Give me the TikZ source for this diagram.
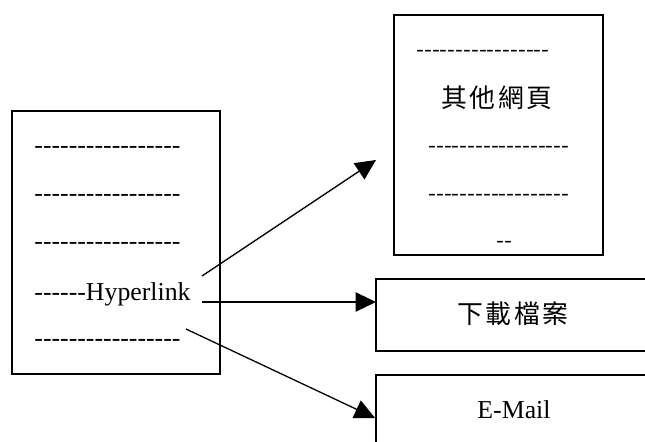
\documentclass[tikz,border=0pt]{standalone}
\usepackage{fontspec}
\setmainfont{Liberation Serif}[Ligatures=TeXOff]
\newfontfamily\cjk{Noto Sans CJK TC}
\usepackage{tikz}
\usetikzlibrary{arrows.meta,positioning}

\begin{document}
\begin{tikzpicture}[x=0.465pt,y=-0.465pt,
    page/.style={draw,line width=0.8pt,inner sep=0pt},
    txt/.style={anchor=base west,inner sep=0pt,font=\fontsize{12}{14}\selectfont},
    rdash/.style={anchor=base west,inner sep=0pt,font=\cjk\fontsize{10.5}{12}\selectfont},
    hop/.style={line width=0.6pt,-{Triangle[length=9.5pt,width=9pt]}}]
    \useasboundingbox (0,0) rectangle (645,441);
    \clip (0,0) rectangle (645,441);

    % Source page
    \node[page,minimum width=96.7pt,minimum height=122.3pt] (src) at (116,242.5) {};
    \node[txt] (s1) at (34,153.5) {-----------------};
    \node[txt] (s2) at (34,201.5) {-----------------};
    \node[txt] (s3) at (34,249.5) {-----------------};
    \node[txt] (hyper) at (34,300) {------Hyperlink};
    \node[txt] (s5) at (34,346.5) {-----------------};

    % Target pages
    \node[page,minimum width=97.2pt,minimum height=111.6pt] (other) at (498.5,135) {};
    \node[rdash] (o1) at (416,57.5) {-----------------};
    \node[font=\cjk\fontsize{12}{14}\selectfont] (title) at (497,98) {其\hspace{1.2pt}他\hspace{1.2pt}網\hspace{1.2pt}頁};
    \node[rdash] (o3) at (428,153.5) {------------------};
    \node[rdash] (o4) at (428,201.5) {------------------};
    \node[rdash] (o5) at (496,248.5) {--};

    \node[page,minimum width=150.7pt,minimum height=33.5pt] (down) at (538,315) {};
    \node[font=\cjk\fontsize{12}{14}\selectfont] (dltext) at (513,314) {下\hspace{1.2pt}載\hspace{1.2pt}檔\hspace{1.2pt}案};

    \node[page,minimum width=150.7pt,minimum height=40pt] (mail) at (538,418) {};
    \node[font=\fontsize{12}{14}\selectfont] (mailtext) at (514,410) {E-Mail};

    % Links
    \coordinate (a1) at (202,276);
    \coordinate (a2) at (202,302);
    \coordinate (a3) at (186,329);
    \coordinate (b1) at (376,160);
    \coordinate (b2) at (376,302);
    \draw[hop] (a1) -- (b1);
    \draw[hop] (a2) -- (b2);
    \draw[hop] (a3) -- (mail.west);
\end{tikzpicture}
\end{document}
